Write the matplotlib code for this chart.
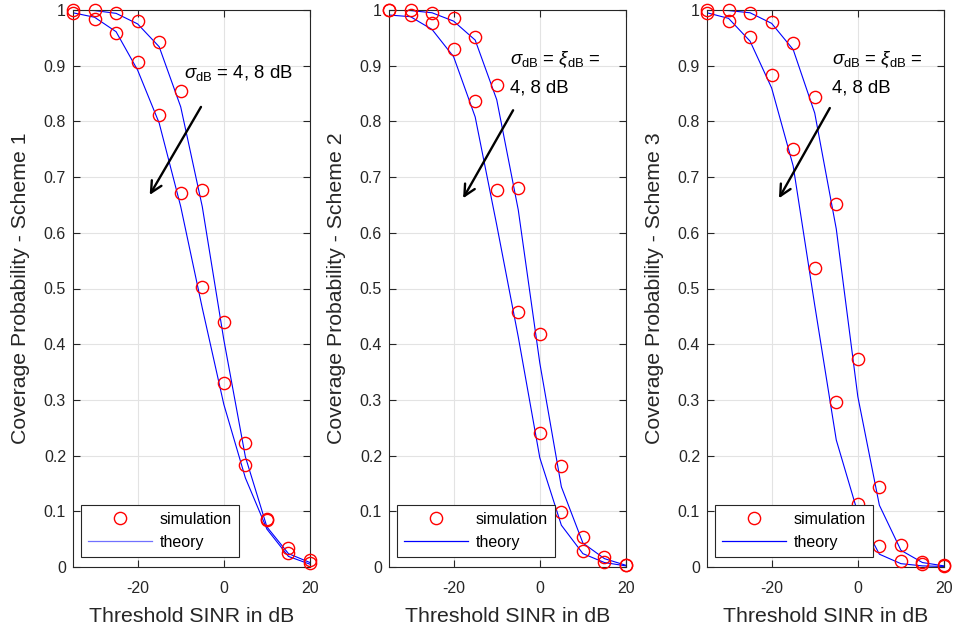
import matplotlib
matplotlib.use("Agg")
import matplotlib.pyplot as plt
from matplotlib.lines import Line2D

plt.rcParams['font.family'] = ['Liberation Sans', 'DejaVu Sans']
plt.rcParams['mathtext.fontset'] = 'custom'
plt.rcParams['mathtext.rm'] = 'Liberation Sans'
plt.rcParams['mathtext.it'] = 'Liberation Sans:italic'

x_db = [-35, -30, -25, -20, -15, -10, -5, 0, 5, 10, 15, 20]

# Scheme 1
s1_sim_4 = [1.0, 1.0, 0.994, 0.981, 0.943, 0.855, 0.677, 0.439, 0.222, 0.086, 0.035, 0.013]
s1_sim_8 = [0.995, 0.983, 0.958, 0.907, 0.811, 0.672, 0.502, 0.331, 0.183, 0.085, 0.026, 0.007]
s1_th_4 = [1.0, 0.999, 0.994, 0.975, 0.934, 0.826, 0.647, 0.408, 0.198, 0.072, 0.024, 0.008]
s1_th_8 = [0.995, 0.987, 0.961, 0.892, 0.797, 0.647, 0.465, 0.292, 0.160, 0.068, 0.019, 0.005]

# Scheme 2
s2_sim_4 = [1.0, 1.0, 0.994, 0.985, 0.951, 0.866, 0.681, 0.418, 0.181, 0.054, 0.018, 0.004]
s2_sim_8 = [1.0, 0.991, 0.976, 0.930, 0.837, 0.676, 0.458, 0.240, 0.098, 0.029, 0.009, 0.003]
s2_th_4 = [1.0, 0.999, 0.995, 0.980, 0.946, 0.839, 0.641, 0.366, 0.144, 0.043, 0.015, 0.003]
s2_th_8 = [0.991, 0.988, 0.965, 0.916, 0.808, 0.614, 0.413, 0.196, 0.075, 0.024, 0.008, 0.002]

# Scheme 3
s3_sim_4 = [1.0, 1.0, 0.994, 0.979, 0.940, 0.843, 0.652, 0.374, 0.144, 0.040, 0.009, 0.003]
s3_sim_8 = [0.995, 0.981, 0.951, 0.884, 0.750, 0.537, 0.297, 0.113, 0.038, 0.011, 0.005, 0.002]
s3_th_4 = [1.0, 0.999, 0.995, 0.976, 0.929, 0.815, 0.607, 0.306, 0.111, 0.030, 0.008, 0.002]
s3_th_8 = [0.995, 0.985, 0.944, 0.860, 0.720, 0.470, 0.228, 0.097, 0.023, 0.006, 0.002, 0.001]

panels = [
    ("Coverage Probability - Scheme 1", s1_sim_4, s1_sim_8, s1_th_4, s1_th_8,
     [r"$\sigma_{\mathrm{dB}}$ = 4, 8 dB"], (-9.3, 0.887), ((-5.3, 0.826), (-17.2, 0.668)), '#7070ff'),
    ("Coverage Probability - Scheme 2", s2_sim_4, s2_sim_8, s2_th_4, s2_th_8,
     [r"$\sigma_{\mathrm{dB}}$ = $\xi_{\mathrm{dB}}$ =", "4, 8 dB"], (-7.0, 0.910), ((-6.2, 0.820), (-17.8, 0.662)), 'blue'),
    ("Coverage Probability - Scheme 3", s3_sim_4, s3_sim_8, s3_th_4, s3_th_8,
     [r"$\sigma_{\mathrm{dB}}$ = $\xi_{\mathrm{dB}}$ =", "4, 8 dB"], (-6.1, 0.910), ((-6.5, 0.824), (-18.3, 0.662)), 'blue'),
]

fig = plt.figure(figsize=(9.54, 6.30), dpi=100)
lefts = [73, 389, 707]
W, H = 954, 630
gray = '#262626'

for i, (ylab, sim4, sim8, th4, th8, txt, txt_pos, arr, legcol) in enumerate(panels):
    ax = fig.add_axes([lefts[i] / W, 63 / H, 237 / W, 557 / H])
    ax.plot(x_db, th4, color='blue', lw=0.8, zorder=2)
    ax.plot(x_db, th8, color='blue', lw=0.8, zorder=2)
    ax.plot(x_db, sim4, 'o', mfc='none', mec='red', ms=8.8, mew=1.0, zorder=3, clip_on=False)
    ax.plot(x_db, sim8, 'o', mfc='none', mec='red', ms=8.8, mew=1.0, zorder=3, clip_on=False)
    ax.set_xlim(-35, 20)
    ax.set_ylim(0, 1)
    ax.set_xticks([-20, 0, 20])
    ax.set_xticklabels(['-20', '0', '20'])
    yt = [k / 10 for k in range(11)]
    ax.set_yticks(yt)
    ax.set_yticklabels(['0'] + ['%.1f' % v for v in yt[1:-1]] + ['1'])
    ax.grid(True, color='#e3e3e3', lw=0.8)
    ax.set_axisbelow(True)
    ax.tick_params(direction='in', top=True, right=True, length=5, width=0.8,
                   labelsize=11.5, colors=gray)
    ax.tick_params(axis='x', pad=10)
    ax.tick_params(axis='y', pad=5)
    for sp in ax.spines.values():
        sp.set_color(gray)
        sp.set_linewidth(0.8)
    ax.set_xlabel("Threshold SINR in dB", fontsize=15.3, color=gray, labelpad=8)
    ax.set_ylabel(ylab, fontsize=15.3, color=gray, labelpad=10)

    ax.text(txt_pos[0], txt_pos[1], txt[0], fontsize=13.4, va='center', ha='left')
    if len(txt) > 1:
        ax.text(txt_pos[0], txt_pos[1] - 0.05, txt[1], fontsize=13.4, va='center', ha='left')
    ax.annotate("", xy=arr[1], xytext=arr[0],
                arrowprops=dict(arrowstyle='->,head_length=0.8,head_width=0.4',
                                color='black', lw=1.7, shrinkA=0, shrinkB=0))

    handles = [Line2D([], [], ls='none', marker='o', mfc='none', mec='red', ms=8.8, mew=1.0),
               Line2D([], [], color=legcol, lw=0.9)]
    leg = ax.legend(handles, ['simulation', 'theory'], loc='lower left',
                    bbox_to_anchor=(0.02, 0.012), fontsize=11.5, frameon=True,
                    fancybox=False, handlelength=4.0, handletextpad=0.5,
                    borderpad=0.45, labelspacing=0.5, borderaxespad=0.2)
    fr = leg.get_frame()
    fr.set_edgecolor(gray)
    fr.set_linewidth(0.8)
    fr.set_alpha(1)

fig.savefig("out.png", dpi=100)
